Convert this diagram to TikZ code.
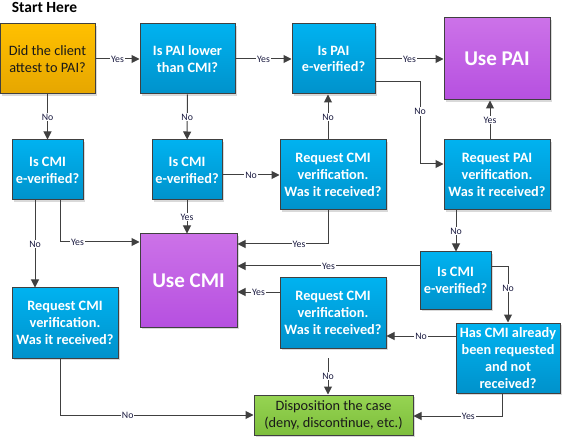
\documentclass[tikz,border=0pt]{standalone}
\usepackage{fontspec}
\setmainfont{Carlito}
\usetikzlibrary{arrows.meta,shadows}

\definecolor{blueTop}{HTML}{00B2F0}
\definecolor{blueBot}{HTML}{0092CB}
\definecolor{purpTop}{HTML}{CC72E8}
\definecolor{purpBot}{HTML}{B650E0}
\definecolor{orTop}{HTML}{FFC000}
\definecolor{orBot}{HTML}{E6A600}
\definecolor{grTop}{HTML}{96D452}
\definecolor{grBot}{HTML}{7DBE3C}
\definecolor{lineGray}{HTML}{404040}
\definecolor{lblText}{HTML}{1A1A40}

\begin{document}
\begin{tikzpicture}[x=1pt, y=-1pt, line width=1pt, draw=lineGray,
    >={Triangle[length=8pt,width=8pt]},
    box/.style={draw=lineGray, line width=1pt, inner sep=0pt, align=center,
        general shadow={fill=black!15, shadow xshift=2pt, shadow yshift=-2pt}},
    ask/.style={box, top color=blueTop, bottom color=blueBot, text=white,
        font=\fontsize{14.3}{16.8}\selectfont\bfseries},
    use/.style={box, top color=purpTop, bottom color=purpBot, text=white,
        font=\fontsize{21}{24}\selectfont\bfseries},
    lbl/.style={fill=white, inner sep=1pt, text=lblText,
        font=\fontsize{9.8}{10}\selectfont}]
    \useasboundingbox (0,0) rectangle (563,441);

    \node[anchor=west, font=\fontsize{15.5}{18}\selectfont\bfseries] (T) at (8,7) {Start Here};

    \node[box, top color=orTop, bottom color=orBot, text=black!90,
        font=\fontsize{14.3}{16.8}\selectfont,
        minimum width=95pt, minimum height=70pt] (S) at (47.5,59) {Did the client\\attest to PAI?};
    \node[ask, minimum width=95pt, minimum height=70pt] (L) at (187.5,59) {Is PAI lower\\than CMI?};
    \node[ask, minimum width=83pt, minimum height=70pt] (P) at (333.5,59) {Is PAI\\e-verified?};
    \node[use, minimum width=106pt, minimum height=82pt] (U) at (497,59) {Use PAI};

    \node[ask, minimum width=71pt, minimum height=60pt] (C1) at (47.5,170) {Is CMI\\e-verified?};
    \node[ask, minimum width=70pt, minimum height=60pt] (C2) at (187,170) {Is CMI\\e-verified?};
    \node[ask, minimum width=106pt, minimum height=70pt] (R1) at (333,175) {Request CMI\\verification.\\Was it received?};
    \node[ask, minimum width=106pt, minimum height=70pt] (R2) at (497,175) {Request PAI\\verification.\\Was it received?};

    \node[use, minimum width=97pt, minimum height=93pt] (M) at (188.5,280.5) {Use CMI};
    \node[ask, minimum width=71pt, minimum height=57pt] (C3) at (455.5,280.5) {Is CMI\\e-verified?};
    \node[ask, minimum width=106pt, minimum height=70pt] (R3) at (65,323) {Request CMI\\verification.\\Was it received?};
    \node[ask, minimum width=106pt, minimum height=70pt] (R4) at (333,313) {Request CMI\\verification.\\Was it received?};
    \node[ask, minimum width=104pt, minimum height=70pt] (H) at (508,358) {Has CMI already\\been requested\\and not\\received?};
    \node[box, top color=grTop, bottom color=grBot, text=black!90,
        font=\fontsize{14.3}{16.8}\selectfont,
        minimum width=159pt, minimum height=40pt] (D) at (333.5,415) {Disposition the case\\(deny, discontinue, etc.)};

    \coordinate (R4out) at (328,358);

    % top row
    \draw[->] (S) -- node[lbl] {Yes} (L);
    \draw[->] (L) -- node[lbl] {Yes} (P);
    \draw[->] (P) -- node[lbl] {Yes} (U);
    \draw[->] (P.east |- 0,82) -| node[lbl, pos=0.68] {No} (420,164) -- (R2.west |- 0,164);
    \draw[->] (S) -- node[lbl] {No} (C1);
    \draw[->] (L) -- node[lbl] {No} (C2);

    % second row
    \draw[->] (C2.east |- 0,175) -- node[lbl] {No} (R1.west |- 0,175);
    \draw[->] (R1.north -| 328,0) -- node[lbl] {No} (P.south -| 328,0);
    \draw[->] (R2.north -| 490,0) -- node[lbl] {Yes} (U.south -| 490,0);
    \draw[->] (C1.south -| 35,0) -- node[lbl] {No} (R3.north -| 35,0);
    \draw[->] (C1.south -| 60,0) |- node[lbl, pos=0.61] {Yes} (M.west |- 0,242);
    \draw[->] (C2.south) -- node[lbl] {Yes} (C2.south |- M.north);
    \draw[->] (R1.south -| 328,0) |- node[lbl, pos=0.66] {Yes} (M.east |- 0,244);
    \draw[->] (R2.south -| 456,0) -- node[lbl] {No} (C3.north -| 456,0);

    % lower part
    \draw[->] (C3.west |- 0,266) -- node[lbl] {Yes} (M.east |- 0,266);
    \draw[->] (C3.east |- 0,267) -| node[lbl, pos=0.69] {No} (H.north -| 508,0);
    \draw[->] (H.west |- 0,336) -- node[lbl] {No} (R4.east |- 0,336);
    \draw[->] (R4.west |- 0,292) -- node[lbl] {Yes} (M.east |- 0,292);
    \draw[->] (R4out) -- node[lbl] {No} (D.north -| R4out);
    \draw[->] (R3.south -| 60,0) |- node[lbl, pos=0.675] {No} (D.west |- 0,415);
    \draw[->] (H.south -| 502,0) |- node[lbl, pos=0.69] {Yes} (D.east |- 0,416);
\end{tikzpicture}
\end{document}
